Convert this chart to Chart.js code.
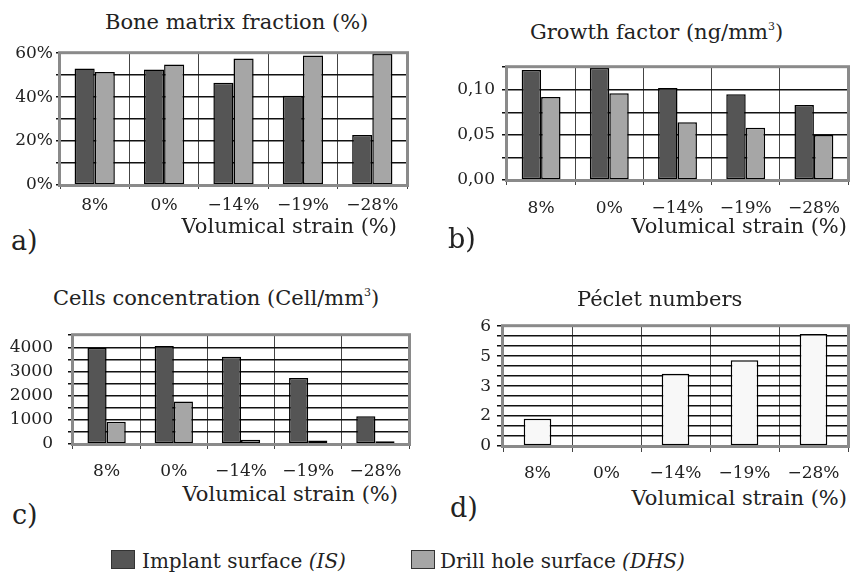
<!DOCTYPE html>
<html>
<head>
<meta charset="utf-8">
<script src="https://cdn.jsdelivr.net/npm/chart.js@4"></script>
<style>
  body { margin:0; background:#fff; width:857px; height:579px; position:relative; overflow:hidden; font-family:'DejaVu Serif', serif; color:#222; }
  canvas { position:absolute; }
  .t { position:absolute; white-space:nowrap; line-height:1; }
  .ttl { font-size:21px; }
  .xt { font-size:21px; }
  .pl { font-size:27px; }
  .lg { font-size:20px; }
  .sw { position:absolute; width:22px; height:17px; border:1px solid #333; }
  sup { font-size:11px; vertical-align:9px; }
</style>
</head>
<body>
<canvas id="ca" width="420" height="180" style="left:0;top:40px"></canvas>
<canvas id="cb" width="427" height="170" style="left:430px;top:50px"></canvas>
<canvas id="cc" width="420" height="170" style="left:0;top:310px"></canvas>
<canvas id="cd" width="427" height="170" style="left:430px;top:310px"></canvas>

<div class="t ttl" style="left:105px;top:12px">Bone matrix fraction (%)</div>
<div class="t ttl" style="left:530px;top:21px">Growth factor (ng/mm<sup>3</sup>)</div>
<div class="t ttl" style="left:53px;top:287px">Cells concentration (Cell/mm<sup>3</sup>)</div>
<div class="t ttl" style="left:577px;top:289px">Péclet numbers</div>

<div class="t xt" style="right:460px;top:216px">Volumical strain (%)</div>
<div class="t xt" style="right:10px;top:216px">Volumical strain (%)</div>
<div class="t xt" style="right:459px;top:484px">Volumical strain (%)</div>
<div class="t xt" style="right:10px;top:488px">Volumical strain (%)</div>

<div class="t pl" style="left:11px;top:227px">a)</div>
<div class="t pl" style="left:448px;top:225px">b)</div>
<div class="t pl" style="left:12px;top:501px">c)</div>
<div class="t pl" style="left:450px;top:494px">d)</div>

<div class="sw" style="left:111px;top:550px;background:#555"></div>
<div class="t lg" style="left:142px;top:551px">Implant surface <i>(IS)</i></div>
<div class="sw" style="left:411px;top:550px;background:#a6a6a6"></div>
<div class="t lg" style="left:440px;top:551px">Drill hole surface <i>(DHS)</i></div>

<script>
// values
const strains = ['8%', '0%', '−14%', '−19%', '−28%'];
const boneIS = [53.0, 52.6, 46.5, 40.6, 22.8];
const boneDHS = [51.4, 54.8, 57.6, 59.0, 59.6];
const growthIS = [0.122, 0.124, 0.102, 0.095, 0.083];
const growthDHS = [0.092, 0.096, 0.064, 0.058, 0.050];
const cellsIS = [3970, 4056, 3607, 2734, 1150];
const cellsDHS = [925, 1760, 175, 140, 112];
const peclet = [1.36, null, 3.62, 4.30, 5.61];

const IS_COLOR = '#555555';
const DHS_COLOR = '#a6a6a6';

Chart.defaults.font.family = "'DejaVu Serif', serif";
Chart.defaults.color = '#222';

// thick grey frame around the plot area
const framePlugin = {
  id: 'frame',
  afterDatasetsDraw(chart) {
    const { ctx, chartArea: a } = chart;
    ctx.save();
    ctx.strokeStyle = '#8a8a8a';
    ctx.lineWidth = 3;
    ctx.strokeRect(a.left - 0.5, a.top - 0.5, a.width + 1, a.height + 1);
    ctx.restore();
  }
};

function ds(data, color) {
  return { data, backgroundColor: color, borderColor: '#000', borderWidth: 1.5,
           barPercentage: 1, borderSkipped: false };
}

function barChart(id, datasets, g) {
  return new Chart(document.getElementById(id), {
    type: 'bar',
    data: { labels: strains, datasets: datasets.map(d => ({ ...d, categoryPercentage: g.cat })) },
    options: {
      responsive: false,
      animation: false,
      devicePixelRatio: 1,
      layout: { padding: { top: g.top, right: g.right, left: 0, bottom: 0 } },
      plugins: { legend: { display: false }, tooltip: { enabled: false } },
      scales: {
        x: {
          grid: { offset: true, color: '#444', lineWidth: 1, tickLength: g.xLen, tickColor: '#444' },
          border: { display: false },
          ticks: { padding: g.xPad, font: { size: 17 }, autoSkip: false, maxRotation: 0 },
          afterFit(s) { s.height = g.xh; }
        },
        y: {
          min: g.min, max: g.max,
          grid: { color: '#111', lineWidth: 1.5, tickLength: g.yLen, tickColor: '#111' },
          border: { display: false },
          ticks: { stepSize: g.step, callback: g.fmt, padding: g.yPad, autoSkip: false, font: { size: 17 } },
          afterFit(s) { s.width = g.yw; }
        }
      }
    },
    plugins: [framePlugin]
  });
}

const near = (v, m) => Math.abs(v / m - Math.round(v / m)) < 1e-6;

barChart('ca', [ds(boneIS, IS_COLOR), ds(boneDHS, DHS_COLOR)], {
  top: 10, right: 13, yw: 60, xh: 35, cat: 0.58,
  min: 0, max: 60, step: 10, fmt: v => near(v, 20) ? v + '%' : '',
  yLen: 4, yPad: 3, xLen: 4, xPad: 6
});

barChart('cb', [ds(growthIS, IS_COLOR), ds(growthDHS, DHS_COLOR)], {
  top: 12, right: 9, yw: 77, xh: 40, cat: 0.57,
  min: 0, max: 0.125, step: 0.025, fmt: v => near(v, 0.05) ? v.toFixed(2).replace('.', ',') : '',
  yLen: 5, yPad: 7, xLen: 5, xPad: 13
});

barChart('cc', [ds(cellsIS, IS_COLOR), ds(cellsDHS, DHS_COLOR)], {
  top: 13, right: 11, yw: 73, xh: 36, cat: 0.57,
  min: 0, max: 4500, step: 500, fmt: v => near(v, 1000) ? String(v) : '',
  yLen: 5, yPad: 15, xLen: 5, xPad: 12
});

barChart('cd', [ds(peclet, '#f8f8f8')], {
  top: 16, right: 9, yw: 73, xh: 34, cat: 0.4,
  min: 0, max: 6, step: 0.5, fmt: v => near(v, 1.5) ? String(Math.round(v)) : '',
  yLen: 6, yPad: 6, xLen: 6, xPad: 11
});
</script>
</body>
</html>
